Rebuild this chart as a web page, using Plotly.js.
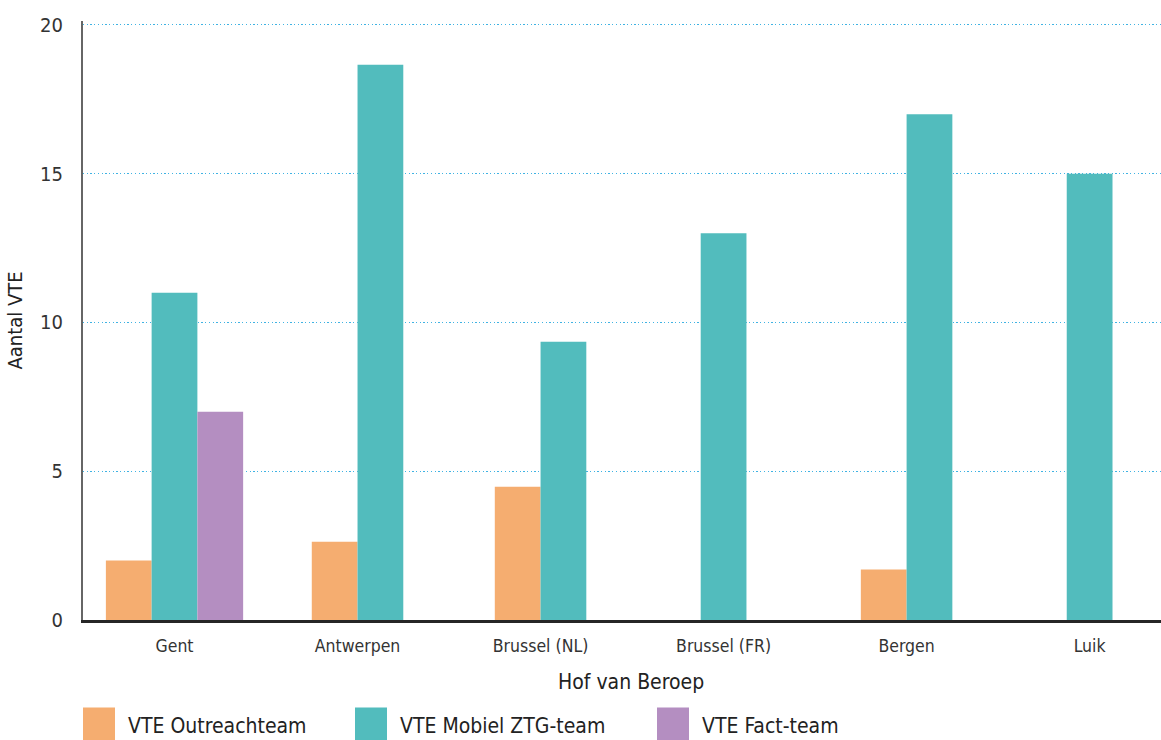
<!DOCTYPE html>
<html>
<head>
<meta charset="utf-8">
<script src="https://cdn.plot.ly/plotly-3.0.1.min.js"></script>
<style>
  html, body { margin: 0; padding: 0; background: #ffffff; overflow: hidden; }
  #chart { width: 1161px; height: 740px; }
</style>
</head>
<body>
<div id="chart"></div>
<script>
// Aantal VTE per Hof van Beroep
const categories = ['Gent', 'Antwerpen', 'Brussel (NL)', 'Brussel (FR)', 'Bergen', 'Luik'];
const outreach = [2.0, 2.63, 4.48, null, 1.7, null];
const mobielZTG = [11.0, 18.66, 9.35, 13.0, 17.0, 15.0];
const factTeam = [7.0, null, null, null, null, null];

const seriesNames = ['VTE Outreachteam', 'VTE Mobiel ZTG-team', 'VTE Fact-team'];
const seriesColors = ['#F5AD70', '#52BCBD', '#B48EC1'];
const seriesValues = [outreach, mobielZTG, factTeam];
const xTitle = 'Hof van Beroep';
const yTitle = 'Aantal VTE';

const FONT = '"Liberation Sans Narrow", "DejaVu Sans Condensed", "Roboto", sans-serif';
const BAR_W = 0.25;

// Bars in each group are centred on the category, counting only the series present there
const offsets = seriesValues.map(() => []);
categories.forEach((c, i) => {
  const present = seriesValues.map((s, k) => (s[i] !== null ? k : -1)).filter(k => k >= 0);
  const start = -present.length * BAR_W / 2;
  seriesValues.forEach((s, k) => {
    const idx = present.indexOf(k);
    offsets[k][i] = idx >= 0 ? start + idx * BAR_W : 0;
  });
});

const traces = seriesValues.map((vals, k) => ({
  type: 'bar',
  name: seriesNames[k],
  x: categories,
  y: vals,
  width: BAR_W,
  offset: offsets[k],
  marker: { color: seriesColors[k], line: { width: 0 } },
  showlegend: false,
  hoverinfo: 'x+y+name'
}));

// Plot area geometry (pixels) used to place the legend and axis title below the plot
const M = { l: 83, r: 0, t: 21, b: 119.5 };
const W = 1161, H = 740;
const plotW = W - M.l - M.r, plotH = H - M.t - M.b;
const px2x = px => (px - M.l) / plotW;
const py2y = py => (H - M.b - py) / plotH;

const legendX = [83, 355, 657];
const swatchW = 32;
const shapes = [], annotations = [];
seriesNames.forEach((name, k) => {
  shapes.push({
    type: 'rect', xref: 'paper', yref: 'paper',
    x0: px2x(legendX[k]), x1: px2x(legendX[k] + swatchW),
    y0: py2y(708), y1: py2y(745),
    fillcolor: seriesColors[k], line: { width: 0 }, layer: 'above'
  });
  annotations.push({
    xref: 'paper', yref: 'paper',
    x: px2x(legendX[k] + swatchW + 11), y: py2y(727),
    xanchor: 'left', yanchor: 'middle',
    text: name, showarrow: false,
    font: { family: FONT, size: 21, color: '#222222' }
  });
});

// x-axis title, centred on the full category band
annotations.push({
  xref: 'paper', yref: 'paper',
  x: px2x(631), y: py2y(683),
  xanchor: 'center', yanchor: 'middle',
  text: xTitle, showarrow: false,
  font: { family: FONT, size: 21, color: '#222222' }
});

const layout = {
  width: W, height: H,
  margin: M,
  paper_bgcolor: '#ffffff',
  plot_bgcolor: '#ffffff',
  barmode: 'overlay',
  font: { family: FONT, color: '#333333' },
  xaxis: {
    type: 'category',
    range: [-0.5, 5.39],
    showgrid: false,
    zeroline: false,
    showline: true,
    linecolor: '#262626',
    linewidth: 3,
    ticks: '',
    ticklabelstandoff: 8,
    tickfont: { family: FONT, size: 17.5, color: '#333333' },
    fixedrange: true
  },
  yaxis: {
    range: [0, 20.13],
    tickvals: [0, 5, 10, 15, 20],
    showgrid: true,
    gridcolor: '#3FB3E3',
    gridwidth: 1.2,
    griddash: '1.3px,2.4px',
    zeroline: false,
    showline: true,
    linecolor: '#666666',
    linewidth: 2,
    ticks: '',
    ticklabelstandoff: 14,
    tickfont: { family: FONT, size: 20, color: '#333333' },
    title: { text: yTitle, font: { family: FONT, size: 20, color: '#222222' }, standoff: 12 },
    fixedrange: true
  },
  shapes: shapes,
  annotations: annotations
};

Plotly.newPlot('chart', traces, layout, { displayModeBar: false, staticPlot: true });
</script>
</body>
</html>
